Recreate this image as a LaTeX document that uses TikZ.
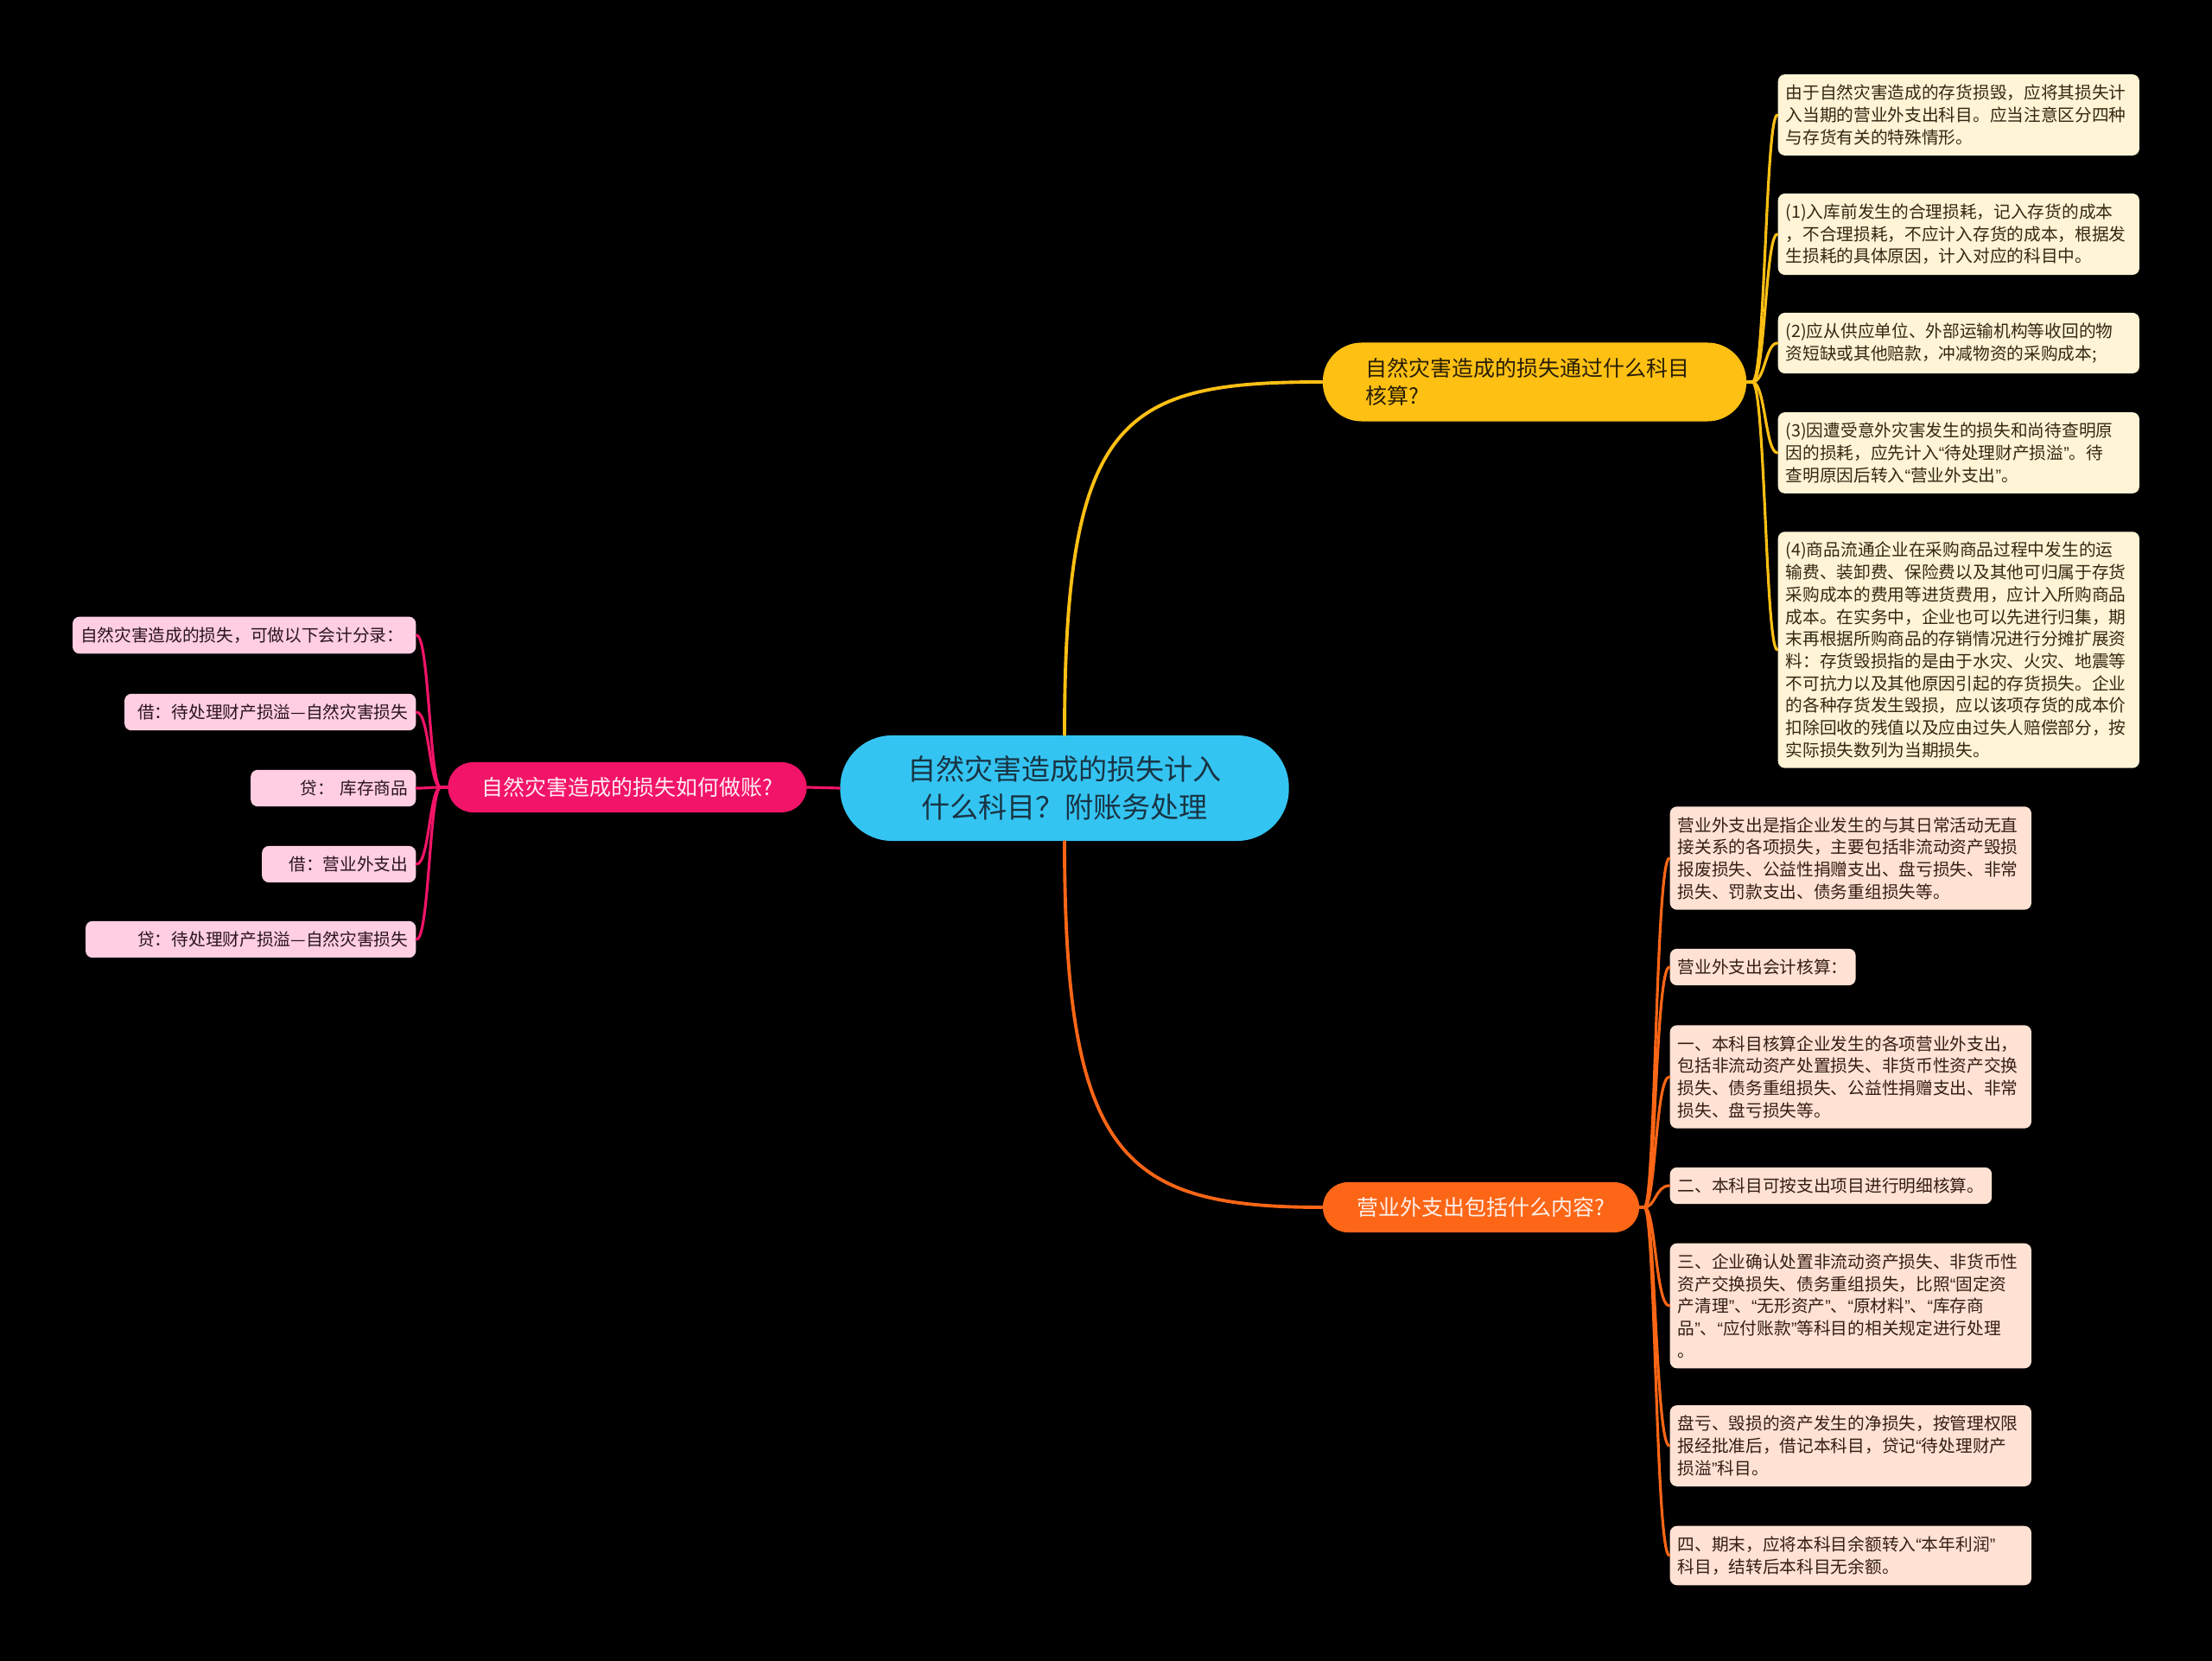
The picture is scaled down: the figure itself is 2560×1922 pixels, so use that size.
\documentclass[tikz,border=0pt]{standalone}
\usepackage{fontspec}
\newfontfamily\cjk{Noto Sans CJK SC}
\newfontfamily\qfont{Liberation Sans}
\newcommand{\ql}{{\qfont “}}
\newcommand{\qr}{{\qfont ”}}
\definecolor{rootblue}{RGB}{52,196,242}
\definecolor{rootink}{RGB}{24,52,68}
\definecolor{sunyellow}{RGB}{255,192,20}
\definecolor{sunink}{RGB}{40,30,5}
\definecolor{hotpink}{RGB}{242,20,104}
\definecolor{flameorange}{RGB}{252,102,22}
\definecolor{cream}{RGB}{255,244,214}
\definecolor{creamink}{RGB}{52,40,18}
\definecolor{blush}{RGB}{255,206,225}
\definecolor{blushink}{RGB}{42,20,30}
\definecolor{peach}{RGB}{255,226,212}
\definecolor{peachink}{RGB}{52,30,20}

\begin{document}
\begin{tikzpicture}[x=0.01cm,y=-0.01cm,line cap=round,
    root/.style={fill=rootblue,text=rootink,rounded corners=0.6cm,minimum width=5.19cm,
      minimum height=1.22cm,align=center,font=\cjk\fontsize{9.4pt}{12.4pt}\selectfont},
    branch/.style={rounded corners=0.29cm,minimum height=0.58cm,
      font=\cjk\fontsize{7.1pt}{9pt}\selectfont},
    leaf/.style={rounded corners=0.08cm,inner xsep=0.09cm,inner ysep=0.12cm,
      font=\cjk\fontsize{5.6pt}{7.3pt}\selectfont},
    yleaf/.style={leaf,fill=cream,text=creamink,anchor=west,align=left},
    oleaf/.style={leaf,fill=peach,text=peachink,anchor=west,align=left},
    pleaf/.style={leaf,fill=blush,text=blushink,anchor=east,align=right},
    wide/.style={text width=4cm},
    yline/.style={sunyellow,line width=0.9pt},
    oline/.style={flameorange,line width=0.9pt},
    pline/.style={hotpink,line width=0.9pt}]
  \useasboundingbox (0,0) rectangle (2560,1922);
  \fill[black] (0,0) rectangle (2560,1922);

  \node[root] (root) at (1232,912) {自然灾害造成的损失计入\\什么科目？附账务处理};
  \node[branch,fill=sunyellow,text=sunink,rounded corners=0.45cm,minimum width=4.9cm,
    minimum height=0.91cm,align=left,text width=3.9cm] (ybr) at (1776,442)
    {自然灾害造成的损失通过什么科目\\核算?};
  \node[branch,fill=hotpink,text=blush!40!white,minimum width=4.15cm] (pbr) at (726,911)
    {自然灾害造成的损失如何做账?};
  \node[branch,fill=flameorange,text=peach!50!white,minimum width=3.66cm] (obr) at (1714,1397)
    {营业外支出包括什么内容?};

  \node[yleaf,wide] (y1) at (2057,133) {由于自然灾害造成的存货损毁，应将其损失计\\入当期的营业外支出科目。应当注意区分四种\\与存货有关的特殊情形。};
  \node[yleaf,wide] (y2) at (2057,271) {(1)入库前发生的合理损耗，记入存货的成本\\，不合理损耗，不应计入存货的成本，根据发\\生损耗的具体原因，计入对应的科目中。};
  \node[yleaf,wide] (y3) at (2057,397) {(2)应从供应单位、外部运输机构等收回的物\\资短缺或其他赔款，冲减物资的采购成本;};
  \node[yleaf,wide] (y4) at (2057,524) {(3)因遭受意外灾害发生的损失和尚待查明原\\因的损耗，应先计入\ql{}待处理财产损溢\qr{}。待\\查明原因后转入\ql{}营业外支出\qr{}。};
  \node[yleaf,wide] (y5) at (2057,752) {(4)商品流通企业在采购商品过程中发生的运\\输费、装卸费、保险费以及其他可归属于存货\\采购成本的费用等进货费用，应计入所购商品\\成本。在实务中，企业也可以先进行归集，期\\末再根据所购商品的存销情况进行分摊扩展资\\料：存货毁损指的是由于水灾、火灾、地震等\\不可抗力以及其他原因引起的存货损失。企业\\的各种存货发生毁损，应以该项存货的成本价\\扣除回收的残值以及应由过失人赔偿部分，按\\实际损失数列为当期损失。};

  \node[pleaf,text width=3.79cm,align=left] (p1) at (482,735) {自然灾害造成的损失，可做以下会计分录：};
  \node[pleaf,text width=3.19cm] (p2) at (482,824) {借：待处理财产损溢—自然灾害损失};
  \node[pleaf,text width=1.73cm] (p3) at (482,912) {贷：\ 库存商品};
  \node[pleaf,text width=1.6cm] (p4) at (482,1000) {借：营业外支出};
  \node[pleaf,text width=3.64cm] (p5) at (482,1087) {贷：待处理财产损溢—自然灾害损失};

  \node[oleaf,wide] (o1) at (1932,993) {营业外支出是指企业发生的与其日常活动无直\\接关系的各项损失，主要包括非流动资产毁损\\报废损失、公益性捐赠支出、盘亏损失、非常\\损失、罚款支出、债务重组损失等。};
  \node[oleaf] (o2) at (1932,1119) {营业外支出会计核算：};
  \node[oleaf,wide] (o3) at (1932,1246) {一、本科目核算企业发生的各项营业外支出，\\包括非流动资产处置损失、非货币性资产交换\\损失、债务重组损失、公益性捐赠支出、非常\\损失、盘亏损失等。};
  \node[oleaf] (o4) at (1932,1372) {二、本科目可按支出项目进行明细核算。};
  \node[oleaf,wide] (o5) at (1932,1511) {三、企业确认处置非流动资产损失、非货币性\\资产交换损失、债务重组损失，比照\ql{}固定资\\产清理\qr{}、\ql{}无形资产\qr{}、\ql{}原材料\qr{}、\ql{}库存商\\品\qr{}、\ql{}应付账款\qr{}等科目的相关规定进行处理\\。};
  \node[oleaf,wide] (o6) at (1932,1673) {盘亏、毁损的资产发生的净损失，按管理权限\\报经批准后，借记本科目，贷记\ql{}待处理财产\\损溢\qr{}科目。};
  \node[oleaf,wide] (o7) at (1932,1800) {四、期末，应将本科目余额转入\ql{}本年利润\qr{}\\科目，结转后本科目无余额。};

  \draw[yline,line width=1.1pt] (root.north) .. controls (1232,480) and (1300,442) .. (ybr.west);
  \draw[oline,line width=1.1pt] (root.south) .. controls (1232,1340) and (1300,1397) .. (obr.west);
  \draw[pline] (root.west) -- (pbr.east);

  \coordinate (yj) at (2028,442);
  \coordinate (yk) at (2043,442);
  \draw[yline] (ybr.east) -- (yj);
  \foreach \c in {y1,y2,y3,y4,y5}
    \draw[yline] (yj) .. controls (yk) and (\c.west -| yk) .. (\c.west);

  \coordinate (pj) at (510,911);
  \coordinate (pk) at (497,911);
  \draw[pline] (pbr.west) -- (pj);
  \foreach \c in {p1,p2,p3,p4,p5}
    \draw[pline] (pj) .. controls (pk) and (\c.east -| pk) .. (\c.east);

  \coordinate (oj) at (1903,1397);
  \coordinate (ok) at (1916,1397);
  \draw[oline] (obr.east) -- (oj);
  \foreach \c in {o1,o2,o3,o4,o5,o6,o7}
    \draw[oline] (oj) .. controls (ok) and (\c.west -| ok) .. (\c.west);
\end{tikzpicture}
\end{document}
